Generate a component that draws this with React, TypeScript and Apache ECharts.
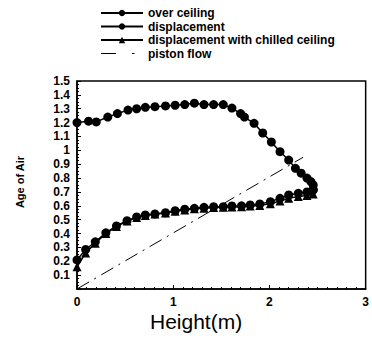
import React, { useEffect, useRef } from "react";
import * as echarts from "echarts";

const seriesNames = [
  "over ceiling",
  "displacement",
  "displacement with chilled ceiling",
  "piston flow",
];

const overCeilingX = [0, 0.12, 0.2, 0.32, 0.42, 0.53, 0.62, 0.71, 0.81, 0.92, 1.02, 1.12, 1.22, 1.32, 1.42, 1.52, 1.61, 1.7, 1.74, 1.84, 1.93, 2.02, 2.11, 2.2, 2.27, 2.33, 2.39, 2.43, 2.455, 2.455];
const overCeilingY = [1.2, 1.21, 1.205, 1.24, 1.265, 1.29, 1.3, 1.31, 1.315, 1.32, 1.325, 1.33, 1.34, 1.33, 1.33, 1.33, 1.305, 1.265, 1.24, 1.195, 1.125, 1.06, 0.99, 0.93, 0.87, 0.835, 0.8, 0.775, 0.75, 0.715];

const displacementX = [0, 0.09, 0.19, 0.3, 0.41, 0.52, 0.62, 0.71, 0.81, 0.92, 1.02, 1.12, 1.22, 1.32, 1.42, 1.52, 1.61, 1.71, 1.8, 1.9, 2.01, 2.11, 2.2, 2.3, 2.39, 2.455];
const displacementY = [0.21, 0.285, 0.34, 0.405, 0.455, 0.493, 0.52, 0.534, 0.541, 0.55, 0.565, 0.575, 0.582, 0.589, 0.594, 0.594, 0.599, 0.6, 0.606, 0.613, 0.63, 0.654, 0.678, 0.69, 0.7, 0.714];

const chilledX = [0, 0.09, 0.19, 0.3, 0.41, 0.52, 0.62, 0.71, 0.81, 0.92, 1.02, 1.12, 1.22, 1.32, 1.42, 1.52, 1.61, 1.71, 1.8, 1.9, 2.01, 2.11, 2.2, 2.3, 2.39, 2.455];
const chilledY = [0.16, 0.26, 0.33, 0.4, 0.45, 0.49, 0.515, 0.53, 0.54, 0.548, 0.56, 0.57, 0.578, 0.582, 0.587, 0.59, 0.592, 0.594, 0.598, 0.603, 0.615, 0.635, 0.655, 0.667, 0.675, 0.685];

const pistonX = [0, 2.35];
const pistonY = [0, 0.95];

const xTicks = [0, 1, 2, 3];

const zip = (xs: number[], ys: number[]) => xs.map((x, i) => [x, ys[i]]);

const FONT = "Liberation Sans, Arial, sans-serif";

// dashed legend icon (bounding corners fixed by tiny squares)
const PISTON_ICON =
  "path://M0,0h0.01v0.01h-0.01z M42,8h-0.01v-0.01h0.01z M0,3.4h15v1.2h-15z M31,3.4h2.5v1.2h-2.5z";

export default function App() {
  const ref = useRef<HTMLDivElement>(null);
  useEffect(() => {
    if (!ref.current) return;
    const chart = echarts.init(ref.current, null, { renderer: "svg" });
    const lineBase = {
      type: "line",
      color: "#000",
      lineStyle: { color: "#000", width: 1.5 },
      itemStyle: { color: "#000" },
      symbolSize: 9,
      silent: true,
    };
    chart.setOption({
      animation: false,
      backgroundColor: "#fff",
      textStyle: { fontFamily: FONT },
      legend: {
        orient: "vertical",
        left: 95,
        top: 2,
        itemWidth: 42,
        itemHeight: 8,
        itemGap: 1.5,
        textStyle: { fontFamily: FONT, fontSize: 12, fontWeight: "bold", color: "#000", lineHeight: 12 },
        data: [
          { name: seriesNames[0] },
          { name: seriesNames[1] },
          { name: seriesNames[2] },
          { name: seriesNames[3], icon: PISTON_ICON, itemStyle: { color: "#000" } },
        ],
      },
      grid: {
        left: 77,
        right: 4,
        top: 81,
        bottom: 58,
        show: true,
        borderColor: "#000",
        borderWidth: 1.5,
        backgroundColor: "transparent",
      },
      xAxis: {
        type: "value",
        min: 0,
        max: 3,
        interval: 1,
        axisLine: { show: true, lineStyle: { color: "#000", width: 1.5 } },
        axisTick: { show: true, inside: true, length: 4, lineStyle: { color: "#000" } },
        minorTick: { show: true, splitNumber: 10, length: 2, lineStyle: { color: "#000" } },
        splitLine: { show: false },
        axisLabel: {
          margin: 7,
          fontFamily: FONT,
          fontSize: 12,
          fontWeight: "bold",
          color: "#000",
          lineHeight: 12,
          formatter: (v: number) => (xTicks.includes(v) ? String(v) : ""),
        },
      },
      yAxis: {
        type: "value",
        min: 0,
        max: 1.5,
        interval: 0.1,
        axisLine: { show: true, lineStyle: { color: "#000", width: 1.5 } },
        axisTick: { show: true, inside: true, length: 4, lineStyle: { color: "#000" } },
        minorTick: { show: true, splitNumber: 4, length: 2, lineStyle: { color: "#000" } },
        splitLine: { show: false },
        axisLabel: {
          margin: 7,
          fontFamily: FONT,
          fontSize: 12,
          fontWeight: "bold",
          color: "#000",
          lineHeight: 12,
          formatter: (v: number) => (v === 0 ? "" : String(Math.round(v * 10) / 10)),
        },
      },
      graphic: [
        {
          type: "text",
          left: 150,
          top: 311,
          style: { text: "Height(m)", fontFamily: FONT, fontSize: 21, lineHeight: 18, fill: "#000" },
        },
        {
          type: "text",
          x: 20,
          y: 182,
          rotation: Math.PI / 2,
          style: {
            text: "Age of Air",
            fontFamily: FONT,
            fontSize: 11,
            fontWeight: "bold",
            fill: "#000",
            align: "center",
            verticalAlign: "middle",
          },
        },
      ],
      series: [
        { ...lineBase, name: seriesNames[0], symbol: "circle", data: zip(overCeilingX, overCeilingY) },
        { ...lineBase, name: seriesNames[1], symbol: "circle", data: zip(displacementX, displacementY) },
        { ...lineBase, name: seriesNames[2], symbol: "triangle", data: zip(chilledX, chilledY) },
        {
          ...lineBase,
          name: seriesNames[3],
          symbol: "none",
          lineStyle: { color: "#000", width: 1, type: [14, 6, 2, 6] },
          data: zip(pistonX, pistonY),
        },
      ],
    });
    return () => chart.dispose();
  }, []);
  return (
    <div
      ref={ref}
      style={{ position: "fixed", left: 0, top: 0, width: 372, height: 347 }}
    />
  );
}
